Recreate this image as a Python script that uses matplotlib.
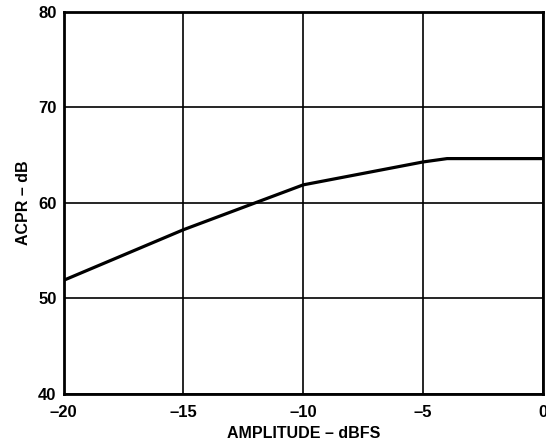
import matplotlib
matplotlib.use("Agg")
import matplotlib.pyplot as plt

## Données
amplitude = [-20, -15, -10, -5, -4, 0]
acpr = [51.9, 57.2, 61.9, 64.3, 64.65, 64.65]
x_ticks = [-20, -15, -10, -5, 0]
y_ticks = [40, 50, 60, 70, 80]

plt.rcParams.update({"font.family": ["Liberation Sans", "DejaVu Sans"], "font.weight": "bold"})

fig = plt.figure(figsize=(5.46, 4.43), dpi=100)
ax = fig.add_axes([63.5 / 546, 1 - 394 / 443, (543 - 63.5) / 546, (394 - 12) / 443])

ax.plot(amplitude, acpr, color="black", linewidth=2.3, solid_joinstyle="miter", zorder=3)

ax.set_xlim(-20, 0)
ax.set_ylim(40, 80)
ax.set_xticks(x_ticks)
ax.set_yticks(y_ticks)
ax.set_xticklabels([str(t).replace("-", "\u2013") for t in x_ticks], fontsize=12, fontweight="bold")
ax.set_yticklabels([str(t) for t in y_ticks], fontsize=12, fontweight="bold")
ax.tick_params(axis="y", length=0, pad=5)
ax.tick_params(axis="x", length=0, pad=8)
ax.grid(True, color="black", linewidth=1.2)
for s in ax.spines.values():
    s.set_linewidth(2.0)

ax.set_xlabel("AMPLITUDE \u2013 dBFS", fontsize=11.5, fontweight="bold", labelpad=4)
ax.set_ylabel("ACPR \u2013 dB", fontsize=11.5, fontweight="bold", labelpad=5)

fig.savefig("out.png", dpi=100)
